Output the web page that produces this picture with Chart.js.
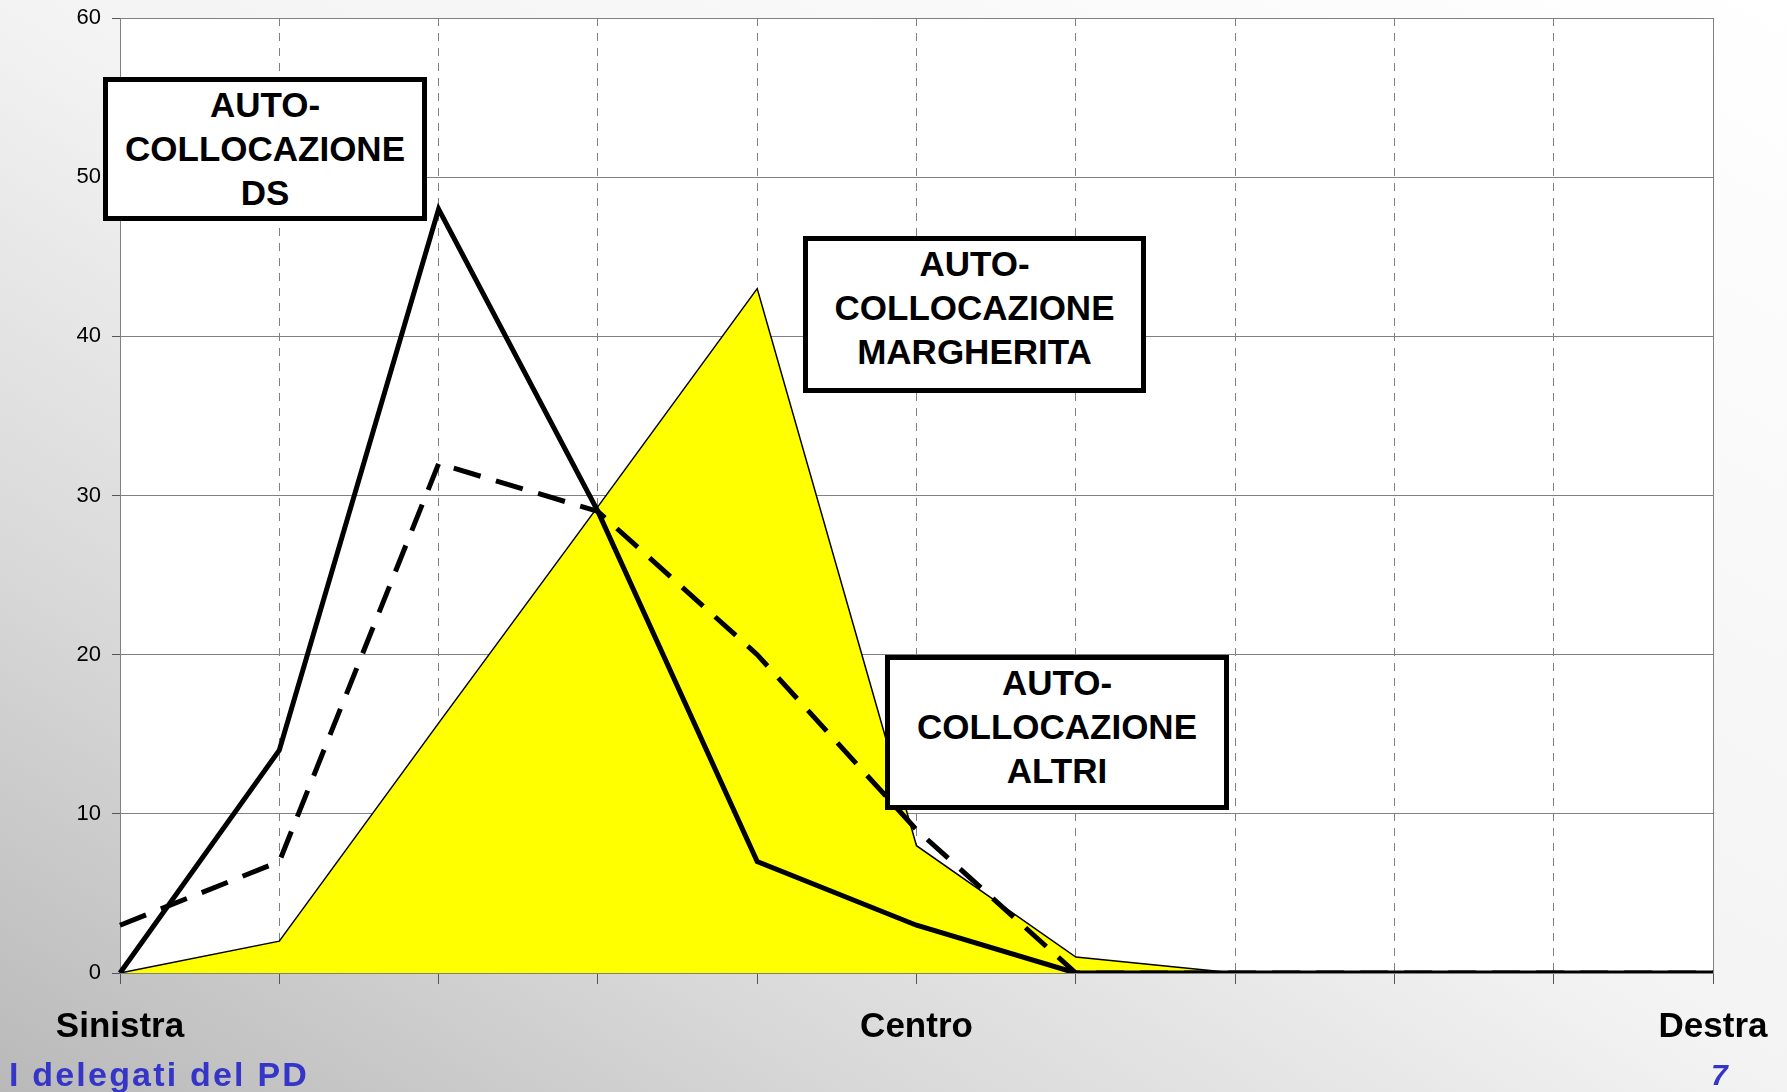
<!DOCTYPE html>
<html>
<head>
<meta charset="utf-8">
<script src="https://cdn.jsdelivr.net/npm/chart.js@4/dist/chart.umd.min.js"></script>
<style>
  html, body { margin: 0; padding: 0; }
  body {
    width: 1787px; height: 1092px; overflow: hidden; position: relative;
    background: linear-gradient(to top right, #b9b9b9 0%, #d9d9d9 25%, #f3f3f3 50%, #ffffff 100%);
    font-family: "Liberation Sans", Arial, sans-serif;
  }
  #chart { position: absolute; left: 0; top: 0; }
  .box {
    position: absolute; box-sizing: border-box; border: 5px solid #000; background: #fff;
    text-align: center; font-weight: bold; font-size: 35px; line-height: 44px; color: #000;
    padding-top: 1px;
  }
  .footer { position: absolute; color: #3535c8; font-weight: bold; }
</style>
</head>
<body>
<canvas id="chart" width="1787" height="1092"></canvas>

<div class="box" style="left:103px; top:77px; width:324px; height:144px;">AUTO-<br>COLLOCAZIONE<br>DS</div>
<div class="box" style="left:803px; top:236px; width:343px; height:157px;">AUTO-<br>COLLOCAZIONE<br>MARGHERITA</div>
<div class="box" style="left:885px; top:655px; width:344px; height:155px;">AUTO-<br>COLLOCAZIONE<br>ALTRI</div>

<div class="footer" style="left:9px; top:1055px; font-size:34px; letter-spacing:2.2px;">I delegati del PD</div>
<div class="footer" style="left:1711px; top:1058px; font-size:30px; font-style:italic;">7</div>

<script>
// posizioni sull'asse sinistra-destra
const categories = ['Sinistra', '', '', '', '', 'Centro', '', '', '', '', 'Destra'];

// auto-collocazione (%)
const valoriDS = [0, 14, 48, 29, 7, 3, 0, 0, 0, 0, 0];
const valoriAltri = [3, 7, 32, 29, 20, 9, 0, 0, 0, 0, 0];
const valoriMargherita = [0, 2, 15.7, 29.3, 43, 8, 1, 0, 0, 0, 0];

const yMin = 0;
const yMax = 60;
const yStep = 10;

const grey = '#808080';

// sfondo bianco dell'area del grafico + bordo destro
const plotBg = {
  id: 'plotBg',
  beforeDraw(chart) {
    const { ctx, chartArea: a } = chart;
    ctx.save();
    ctx.fillStyle = '#ffffff';
    ctx.fillRect(a.left, a.top, a.right - a.left, a.bottom - a.top);
    ctx.restore();
  },
  beforeDatasetsDraw(chart) {
    const { ctx, chartArea: a } = chart;
    ctx.save();
    ctx.strokeStyle = grey;
    ctx.lineWidth = 1;
    ctx.beginPath();
    ctx.moveTo(a.right + 0.5, a.top);
    ctx.lineTo(a.right + 0.5, a.bottom);
    ctx.stroke();
    ctx.restore();
  }
};

new Chart(document.getElementById('chart'), {
  type: 'line',
  data: {
    labels: categories,
    datasets: [
      {
        label: 'DS',
        data: valoriDS,
        borderColor: '#000',
        borderWidth: 5,
        fill: false,
        order: 1
      },
      {
        label: 'Altri',
        data: valoriAltri,
        borderColor: '#000',
        borderWidth: 5,
        borderDash: [28, 16],
        fill: false,
        order: 2
      },
      {
        label: 'Margherita',
        data: valoriMargherita,
        borderColor: '#000',
        borderWidth: 1.5,
        backgroundColor: '#ffff00',
        fill: 'origin',
        order: 3
      }
    ]
  },
  options: {
    responsive: false,
    animation: false,
    layout: { padding: { top: 18, right: 74, left: 0, bottom: 0 } },
    elements: {
      point: { radius: 0, hoverRadius: 0 },
      line: { tension: 0, borderCapStyle: 'butt', borderJoinStyle: 'miter' }
    },
    plugins: {
      legend: { display: false },
      tooltip: { enabled: false }
    },
    scales: {
      x: {
        grid: { color: grey, lineWidth: 1, tickLength: 11, tickColor: '#555' },
        border: {
          color: grey,
          dash: (c) => (c.index === 0 || c.index === categories.length - 1) ? [] : [8, 7]
        },
        ticks: {
          autoSkip: false, maxRotation: 0, padding: 22, color: '#000',
          font: { family: '"Liberation Sans", Arial, sans-serif', size: 35, weight: 'bold' }
        },
        afterFit: (s) => { s.height = 119; s.paddingLeft = 0; s.paddingRight = 0; }
      },
      y: {
        min: yMin,
        max: yMax,
        grid: { color: grey, lineWidth: 1, tickLength: 8, tickColor: '#555' },
        border: { color: grey },
        ticks: {
          stepSize: yStep, padding: 11, color: '#000',
          font: { family: '"Liberation Sans", Arial, sans-serif', size: 22 }
        },
        afterFit: (s) => { s.width = 120; s.paddingTop = 0; s.paddingBottom = 0; }
      }
    }
  },
  plugins: [plotBg]
});
</script>
</body>
</html>
